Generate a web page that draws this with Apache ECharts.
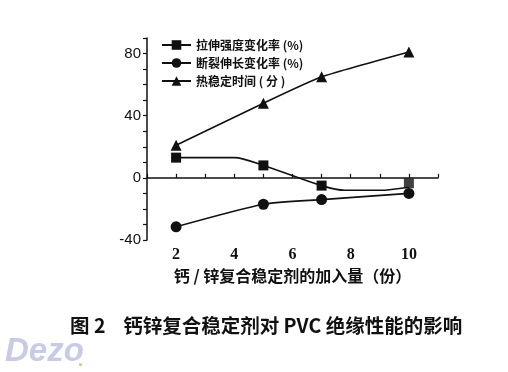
<!DOCTYPE html>
<html><head><meta charset="utf-8">
<script src="https://cdn.jsdelivr.net/npm/echarts@6/dist/echarts.min.js"></script>
<style>html,body{margin:0;padding:0;background:#fff}#c{width:508px;height:372px}</style>
</head><body><div id="c"></div>
<script>
var seriesNames = ['拉伸强度变化率 (%)', '断裂伸长变化率 (%)', '热稳定时间 ( 分 )'];
// [x, y, showMarker]
var tensile = [[2, 13, 1], [4, 13, 0], [5, 8, 1], [7, -5, 1], [7.8, -8, 0], [9, -8, 0], [10, -6, 0]];
var tensileMarkerEnd = [[10, -3.5]];
var elongation = [[2, -31.5], [5, -17], [7, -14], [10, -10]];
var thermal = [[2, 21], [5, 48], [7, 65], [10, 81]];
var xTickLabels = [2, 4, 6, 8, 10];
var yTickLabels = [-40, 0, 40, 80];
var xAxisTitle = '钙 / 锌复合稳定剂的加入量（份）';
var figTitle = '图 2    钙锌复合稳定剂对 PVC 绝缘性能的影响';

var chart = echarts.init(document.getElementById('c'));
var cjk = '"Noto Sans CJK SC", sans-serif';
var serif = '"Liberation Serif", "DejaVu Serif", serif';
function pts(arr) {
  return arr.map(function (p) {
    return { value: [p[0], p[1]], symbol: p[2] === 0 ? 'none' : 'rect' };
  });
}
chart.setOption({
  animation: false,
  backgroundColor: '#fff',
  grid: { left: 147, top: 38, right: 70, bottom: 132 },
  legend: {
    orient: 'vertical', left: 156, top: 34, itemGap: 6, itemWidth: 29, itemHeight: 12,
    data: seriesNames,
    textStyle: { fontFamily: cjk, fontWeight: 'bold', fontSize: 12, color: '#111' }
  },
  xAxis: {
    type: 'value', min: 1, max: 11, interval: 1,
    name: xAxisTitle, nameLocation: 'middle', nameGap: 25,
    nameTextStyle: { fontFamily: cjk, fontWeight: 'bold', fontSize: 16, color: '#111' },
    axisLine: { lineStyle: { color: '#111', width: 1.5 } },
    axisTick: { inside: true, length: 4, lineStyle: { color: '#111', width: 1.2 } },
    splitLine: { show: false },
    axisLabel: {
      margin: 7, fontFamily: serif, fontWeight: 'bold', fontSize: 16, color: '#111',
      formatter: function (v) { return xTickLabels.indexOf(v) >= 0 ? String(v) : ''; }
    }
  },
  yAxis: {
    type: 'value', min: -40, max: 90, interval: 10,
    axisLine: { show: true, lineStyle: { color: '#111', width: 1.5 } },
    axisTick: { show: true, length: 4, lineStyle: { color: '#111', width: 1.2 } },
    splitLine: { show: false },
    axisLabel: {
      margin: 6, fontFamily: '"Liberation Sans", Arial, sans-serif', fontSize: 15, color: '#111',
      formatter: function (v) { return yTickLabels.indexOf(v) >= 0 ? String(v) : ''; }
    }
  },
  series: [
    {
      name: seriesNames[0], type: 'line', smooth: 0.3, data: pts(tensile),
      symbol: 'rect', symbolSize: 10,
      lineStyle: { color: '#111', width: 1.6 }, itemStyle: { color: '#111' }
    },
    {
      name: seriesNames[0], type: 'scatter', data: tensileMarkerEnd,
      symbol: 'rect', symbolSize: 10, itemStyle: { color: '#111' }
    },
    {
      name: seriesNames[1], type: 'line', smooth: 0.2, data: elongation,
      symbol: 'circle', symbolSize: 11,
      lineStyle: { color: '#111', width: 1.6 }, itemStyle: { color: '#111' }
    },
    {
      name: seriesNames[2], type: 'line', smooth: 0.15, data: thermal,
      symbol: 'triangle', symbolSize: 11,
      lineStyle: { color: '#111', width: 1.6 }, itemStyle: { color: '#111' }
    }
  ],
  graphic: [
    { type: 'text', left: 70, top: 316,
      style: { text: figTitle, fontFamily: cjk, fontWeight: 'bold', fontSize: 19.5, fill: '#111' } },
    { type: 'text', left: 5, top: 335,
      style: { text: 'Dezo', fontFamily: '"Liberation Sans", sans-serif', fontStyle: 'italic', fontWeight: 'bold', fontSize: 33, fill: '#c9cbe6' } },
    { type: 'text', left: 78, top: 352,
      style: { text: '.', fontFamily: '"Liberation Sans", sans-serif', fontWeight: 'bold', fontSize: 18, fill: '#f0b890' } }
  ]
});
</script></body></html>
